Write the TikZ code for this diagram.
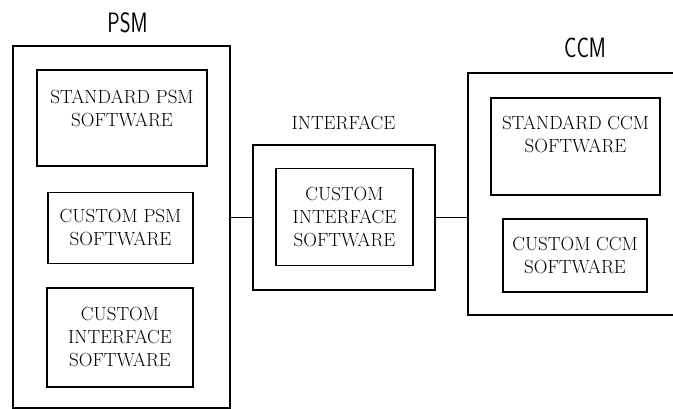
\documentclass[tikz,border=0pt]{standalone}
\usepackage{graphicx}
\tikzset{
  box/.style={draw, line width=1.8pt, rectangle, inner sep=0pt},
  txt/.style={align=center, font=\fontsize{19}{23}\selectfont, inner sep=0pt},
  title/.style={inner sep=0pt, font=\fontsize{28}{30}\sffamily},
  link/.style={line width=1.8pt},
}
\newcommand{\narrow}[1]{\scalebox{0.74}[1]{#1}}
\begin{document}
\begin{tikzpicture}[x=1pt, y=-1pt]
  \clip (0,0) rectangle (673,409);

  % PSM module
  \node[title] (psmtitle) at (127.5,23) {\narrow{PSM}};
  \node[box, minimum width=217, minimum height=362] (psm) at (121.5,227) {};
  \node[box, minimum width=170, minimum height=96] (stdpsm) at (122,118) {};
  \node[txt] (stdpsmtxt) at (122,108) {STANDARD PSM\\SOFTWARE};
  \node[box, txt, minimum width=145, minimum height=71] (cuspsm) at (120.5,228) {CUSTOM PSM\\SOFTWARE};
  \node[box, txt, minimum width=146, minimum height=99] (psmif) at (120,337.5) {CUSTOM\\INTERFACE\\SOFTWARE};

  % Interface module
  \node[txt] (iftitle) at (343.5,123) {INTERFACE};
  \node[box, minimum width=182, minimum height=145] (ifc) at (344,217.5) {};
  \node[box, txt, minimum width=137, minimum height=97] (ifsw) at (344.5,217) {CUSTOM\\INTERFACE\\SOFTWARE};

  % CCM module (runs past the right edge)
  \node[title] (ccmtitle) at (585,48) {\narrow{CCM}};
  \node[box, minimum width=222, minimum height=242] (ccm) at (579,194) {};
  \node[box, minimum width=169, minimum height=97] (stdccm) at (575.5,146.5) {};
  \node[txt] (stdccmtxt) at (575.5,134.5) {STANDARD CCM\\SOFTWARE};
  \node[box, txt, minimum width=144, minimum height=73] (cusccm) at (575,255.5) {CUSTOM CCM\\SOFTWARE};

  % links between modules
  \draw[link] (ifc.west -| psm.east) -- (ifc.west);
  \draw[link] (ifc.east) -- (ifc.east -| ccm.west);
\end{tikzpicture}
\end{document}
